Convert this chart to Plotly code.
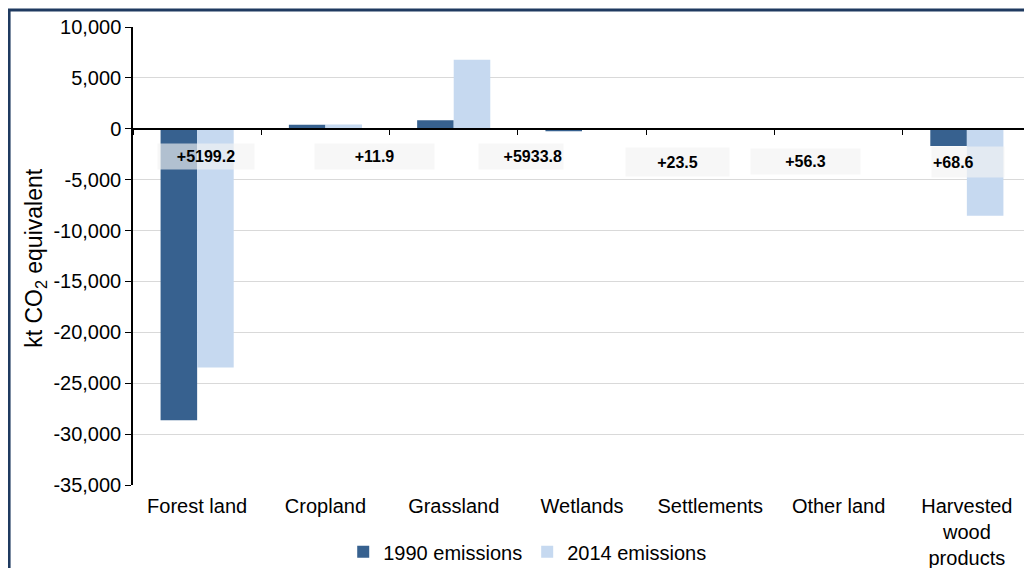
import plotly.graph_objects as go

# Data (kt CO2 equivalent)
categories = ["Forest land", "Cropland", "Grassland", "Wetlands",
              "Settlements", "Other land", "Harvested<br>wood<br>products"]
emissions_1990 = [-28650, 400, 850, -250, -60, -80, -1700]
emissions_2014 = [-23450, 412, 6784, -20, -37, -24, -8550]

y_tickvals = [10000, 5000, 0, -5000, -10000, -15000, -20000, -25000, -30000, -35000]
y_ticktext = ["10,000", "5,000", "0", "-5,000", "-10,000", "-15,000",
              "-20,000", "-25,000", "-30,000", "-35,000"]

# Change labels (hand-placed text boxes in the original)
change_labels = ["+5199.2", "+11.9", "+5933.8", "+23.5", "+56.3", "+68.6"]
label_x = [0.07, 1.383, 2.525, 3.745, 4.743, 6.01]
label_y = [-2750, -2700, -2700, -3240, -3190, -3240]
label_w = [94, 117, 82, 101, 107, 70]
label_h = [23, 23, 23, 26, 23, 28]
label_align = ["center", "center", "right", "center", "center", "left"]

dark_blue = "#37618f"
light_blue = "#c6d9f0"
font_family = "Liberation Sans, Arial, sans-serif"

fig = go.Figure()
fig.add_trace(go.Bar(x=categories, y=emissions_1990, name="1990 emissions",
                     marker=dict(color=dark_blue, line=dict(width=0))))
fig.add_trace(go.Bar(x=categories, y=emissions_2014, name="2014 emissions",
                     marker=dict(color=light_blue, line=dict(width=0))))
# invisible trace so the zero-line axis with boundary ticks is drawn
fig.add_trace(go.Scatter(x=categories, y=[None] * len(categories), xaxis="x2",
                         showlegend=False, hoverinfo="skip"))

annotations = []
for txt, x, y, w, h, al in zip(change_labels, label_x, label_y, label_w, label_h, label_align):
    annotations.append(dict(
        x=x, y=y, xref="x", yref="y", text="<b>" + txt + "</b>", showarrow=False,
        width=w, height=h, align=al, valign="middle", borderpad=1,
        bgcolor="rgba(242,242,242,0.65)",
        font=dict(family=font_family, size=16, color="#000000")))
# y axis title
annotations.append(dict(
    x=-0.108, y=0.496, xref="paper", yref="paper", xanchor="center", yanchor="middle",
    showarrow=False, textangle=-90,
    text="kt CO<sub>2</sub> equivalent",
    font=dict(family=font_family, size=23, color="#000000")))

# the page adds an 8px body margin, so the margins are trimmed to compensate
fig.update_layout(
    width=1032, height=568,
    margin=dict(l=125, r=9, t=19, b=91, autoexpand=False),
    paper_bgcolor="white", plot_bgcolor="white",
    barmode="group", bargap=0.43, bargroupgap=0,
    font=dict(family=font_family, size=20, color="#000000"),
    showlegend=True,
    legend=dict(orientation="h", x=0.439, y=-0.146, xanchor="center", yanchor="middle",
                font=dict(size=20), itemwidth=30, traceorder="normal"),
    xaxis=dict(showline=False, ticks="", showgrid=False, tickfont=dict(size=20),
               ticklabelstandoff=7, automargin=False, fixedrange=True),
    xaxis2=dict(overlaying="x", matches="x", anchor="free", position=35 / 45,
                showline=True, linecolor="#000000", linewidth=1.5,
                ticks="outside", tickson="boundaries", ticklen=5, tickcolor="#000000",
                showticklabels=False, showgrid=False),
    yaxis=dict(range=[-35000, 10000], tickmode="array",
               tickvals=y_tickvals, ticktext=y_ticktext,
               showgrid=True, gridcolor="#d9d9d9", gridwidth=1,
               zeroline=False, showline=True, linecolor="#000000", linewidth=1.5,
               ticks="outside", ticklen=6, tickcolor="#000000",
               tickfont=dict(size=20), automargin=False),
    annotations=annotations,
    shapes=[dict(type="rect", xref="paper", yref="paper",
                 x0=-0.138, x1=1.05, y0=-0.3, y1=1.037,
                 line=dict(color="#1f3a60", width=3), layer="above")],
)

fig.write_html("out.html")
